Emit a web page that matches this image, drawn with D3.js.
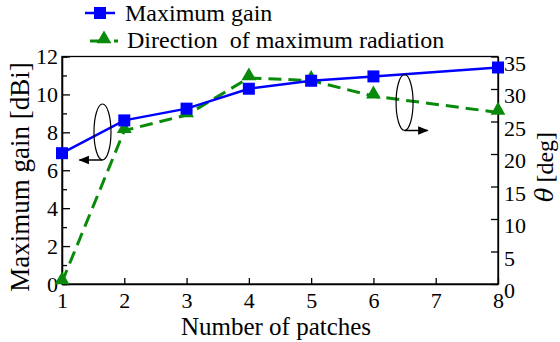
<!DOCTYPE html>
<html>
<head>
<meta charset="utf-8">
<script src="https://cdn.jsdelivr.net/npm/d3@7"></script>
</head>
<body style="margin:0">
<div id="chart"></div>
<script>
// Data
const patches = [1, 2, 3, 4, 5, 6, 8]
const maxGain = [6.9, 8.63, 9.25, 10.3, 10.72, 10.95, 11.42]
const theta = [0.3, 23.6, 26.0, 31.7, 31.3, 28.9, 26.4]
const xTicks = [1, 2, 3, 4, 5, 6, 7, 8]
const gainTicks = [0, 2, 4, 6, 8, 10, 12]
const thetaTicks = [0, 5, 10, 15, 20, 25, 30, 35]

const width = 560, height = 342
const margin = { top: 56.5, right: 62, bottom: 58, left: 62 }
const FONT = "Liberation Serif"
const tickFs = 22
const titleFs = 25
const legendFs = 24

const svg = d3.select("#chart").append("svg")
  .attr("width", width)
  .attr("height", height)

const x = d3.scaleLinear().domain([1, 8]).range([margin.left, width - margin.right])
const yL = d3.scaleLinear().domain([0, 12]).range([height - margin.bottom, margin.top])
const yR = d3.scaleLinear().domain([0, 35]).range([height - margin.bottom, margin.top])

// Axes (ticks drawn inward)
svg.append("g")
  .attr("transform", `translate(0,${height - margin.bottom})`)
  .call(d3.axisBottom(x).tickValues(xTicks).tickFormat(d3.format("d"))
    .tickSizeInner(-6).tickSizeOuter(0).tickPadding(8))

svg.append("g")
  .attr("transform", `translate(${margin.left},0)`)
  .call(d3.axisLeft(yL).tickValues(d3.range(1, 12, 2)).tickSize(-5).tickFormat(""))
svg.append("g")
  .attr("transform", `translate(${margin.left},0)`)
  .call(d3.axisLeft(yL).tickValues(gainTicks).tickFormat(d3.format("d"))
    .tickSizeInner(-8).tickSizeOuter(0).tickPadding(4))

svg.append("g")
  .attr("transform", `translate(${width - margin.right},0)`)
  .call(d3.axisRight(yR).tickValues(thetaTicks).tickFormat(d3.format("d"))
    .tickSizeInner(-7).tickSizeOuter(0).tickPadding(6))
  .selectAll("text").attr("dy", "0.62em")

// axis groups default to sans-serif: override
svg.selectAll("g").attr("font-family", FONT).attr("font-size", tickFs)
svg.selectAll(".tick text").attr("fill", "#000")
svg.selectAll(".domain, .tick line").attr("stroke", "#000").attr("stroke-width", 1.3)

// frame
svg.append("rect")
  .attr("x", margin.left).attr("y", margin.top)
  .attr("width", width - margin.left - margin.right)
  .attr("height", height - margin.top - margin.bottom)
  .attr("fill", "none").attr("stroke", "#000").attr("stroke-width", 1.3)

// Series: theta (green dashed, triangles)
const green = "#0a8a0a"
const blue = "#0000ff"
const tri = d3.symbol().type(d3.symbolTriangle).size(95)
const sq = d3.symbol().type(d3.symbolSquare).size(144)

svg.append("path")
  .datum(patches.map((p, i) => [p, theta[i]]))
  .attr("fill", "none").attr("stroke", green).attr("stroke-width", 3)
  .attr("stroke-dasharray", "13,7")
  .attr("d", d3.line().x(d => x(d[0])).y(d => yR(d[1])))

svg.append("g").selectAll("path")
  .data(patches.map((p, i) => [p, theta[i]]))
  .join("path")
  .attr("d", tri)
  .attr("fill", green)
  .attr("transform", d => `translate(${x(d[0])},${yR(d[1]) - 2})`)

// Series: maximum gain (blue solid, squares)
svg.append("path")
  .datum(patches.map((p, i) => [p, maxGain[i]]))
  .attr("fill", "none").attr("stroke", blue).attr("stroke-width", 2.5)
  .attr("d", d3.line().x(d => x(d[0])).y(d => yL(d[1])))

svg.append("g").selectAll("path")
  .data(patches.map((p, i) => [p, maxGain[i]]))
  .join("path")
  .attr("d", sq)
  .attr("fill", blue)
  .attr("transform", d => `translate(${x(d[0])},${yL(d[1])})`)

// Ellipse + arrow annotations
svg.append("defs").append("marker")
  .attr("id", "arrow")
  .attr("viewBox", "0 0 10 10")
  .attr("refX", 9).attr("refY", 5)
  .attr("markerWidth", 7).attr("markerHeight", 7)
  .attr("orient", "auto")
  .append("path").attr("d", "M0,1 L10,5 L0,9 Z").attr("fill", "#000")

const annots = [
  { cx: 1.65, cy: 132, dir: -1 },
  { cx: 6.5, cy: 102.5, dir: 1 }
]
annots.forEach(a => {
  svg.append("ellipse")
    .attr("cx", x(a.cx)).attr("cy", a.cy)
    .attr("rx", 8.5).attr("ry", 28)
    .attr("fill", "none").attr("stroke", "#000").attr("stroke-width", 1.2)
  svg.append("line")
    .attr("x1", x(a.cx)).attr("y1", a.cy + 28)
    .attr("x2", x(a.cx) + a.dir * 23).attr("y2", a.cy + 28)
    .attr("stroke", "#000").attr("stroke-width", 1.5)
    .attr("marker-end", "url(#arrow)")
})

// Axis titles
svg.append("text")
  .attr("x", 276)
  .attr("y", 335)
  .attr("text-anchor", "middle")
  .attr("font-size", titleFs).attr("font-family", FONT)
  .text("Number of patches")

svg.append("text")
  .attr("transform", `translate(29,177) rotate(-90)`)
  .attr("text-anchor", "middle")
  .attr("font-size", 27).attr("font-family", FONT)
  .text("Maximum gain [dBi]")

const rt = svg.append("text")
  .attr("transform", `translate(553,202) rotate(-90)`)
  .attr("font-size", 24).attr("font-family", FONT)
rt.append("tspan").attr("font-family", "DejaVu Serif").attr("font-style", "italic").text("θ")
rt.append("tspan").attr("dx", 5).text("[deg]")

// Legend
svg.append("line").attr("x1", 85).attr("x2", 115).attr("y1", 13).attr("y2", 13)
  .attr("stroke", blue).attr("stroke-width", 2.5)
svg.append("path").attr("d", sq).attr("fill", blue).attr("transform", "translate(100,13)")
svg.append("text").attr("x", 125).attr("y", 21).attr("font-size", legendFs).attr("font-family", FONT)
  .text("Maximum gain")

svg.append("line").attr("x1", 90).attr("x2", 120).attr("y1", 41).attr("y2", 41)
  .attr("stroke", green).attr("stroke-width", 3).attr("stroke-dasharray", "14,10,4,2")
svg.append("path").attr("d", tri).attr("fill", green).attr("transform", "translate(104,39)")
const leg2 = svg.append("text").attr("x", 127).attr("y", 48).attr("font-size", legendFs).attr("font-family", FONT)
leg2.append("tspan").text("Direction")
leg2.append("tspan").attr("dx", 6).text(" of maximum radiation")
</script>
</body>
</html>
